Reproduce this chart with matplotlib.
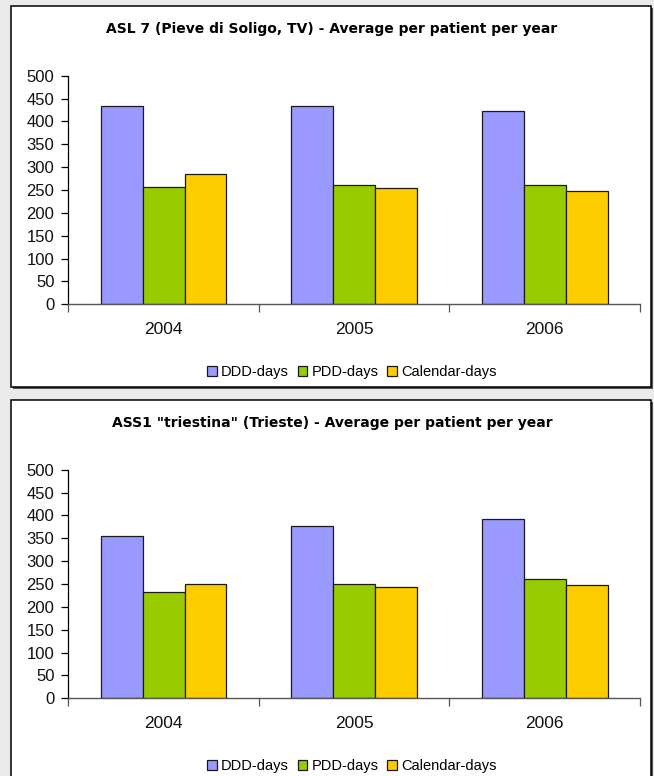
import matplotlib
matplotlib.use("Agg")
import matplotlib.pyplot as plt
from matplotlib.patches import Rectangle
import numpy as np

# ---- data ----
years = ["2004", "2005", "2006"]
series_names = ["DDD-days", "PDD-days", "Calendar-days"]

asl7_ddd = [434, 434, 423]
asl7_pdd = [257, 262, 260]
asl7_cal = [284, 255, 247]

ass1_ddd = [354, 376, 392]
ass1_pdd = [233, 249, 262]
ass1_cal = [249, 244, 247]

titles = [
    "ASL 7 (Pieve di Soligo, TV) - Average per patient per year",
    'ASS1 "triestina" (Trieste) - Average per patient per year',
]
yticks = list(range(0, 501, 50))

colors = ["#9999FF", "#99CC00", "#FFCC00"]

# ---- layout (pixel units, origin top-left) ----
W, H = 654, 776
DPI = 100
fig = plt.figure(figsize=(W / DPI, H / DPI), dpi=DPI, facecolor="#EAEAEA")


def fx(x):
    return x / W


def fy(y):
    return 1 - y / H


PANEL_OFFSET = 394
panel_x0, panel_x1 = 10.5, 650.5
panel_y0, panel_h = 6, 381
ax_x0, ax_x1 = 68.3, 640.0
ax_y0, ax_y1 = 75.7, 304.3

datasets = [
    (asl7_ddd, asl7_pdd, asl7_cal),
    (ass1_ddd, ass1_pdd, ass1_cal),
]

tick_font = "Liberation Sans"
bar_w = 0.22
x = np.arange(len(years))

for i, (series, title) in enumerate(zip(datasets, titles)):
    off = i * PANEL_OFFSET
    top = panel_y0 + off
    # drop shadow then white panel with black border
    fig.patches.append(Rectangle((fx(panel_x0 + 2), fy(top + panel_h + 2)),
                                 fx(panel_x1 - panel_x0), panel_h / H,
                                 transform=fig.transFigure, facecolor="#555555",
                                 edgecolor="none", zorder=-2))
    fig.patches.append(Rectangle((fx(panel_x0), fy(top + panel_h)),
                                 fx(panel_x1 - panel_x0), panel_h / H,
                                 transform=fig.transFigure, facecolor="white",
                                 edgecolor="black", linewidth=1.1, zorder=-1))

    ax = fig.add_axes([fx(ax_x0), fy(ax_y1 + off), fx(ax_x1 - ax_x0),
                       (ax_y1 - ax_y0) / H])
    ax.set_zorder(2)
    ax.set_facecolor("none")

    for k, (vals, name, col) in enumerate(zip(series, series_names, colors)):
        ax.bar(x + (k - 1) * bar_w, vals, width=bar_w, color=col,
               edgecolor="#1a1a1a", linewidth=0.9, label=name, zorder=2)

    ax.set_xlim(-0.5, len(years) - 0.5)
    ax.set_ylim(0, 500)
    ax.set_yticks(yticks)
    ax.set_yticklabels([str(v) for v in yticks], fontfamily=tick_font,
                       fontsize=12, color="#111111")
    ax.set_xticks(x)
    ax.set_xticklabels(years, fontfamily=tick_font, fontsize=12.5,
                       color="#111111")
    ax.set_xticks(np.arange(-0.5, len(years), 1.0), minor=True)
    ax.tick_params(axis="x", which="major", length=0, pad=13)
    ax.tick_params(axis="x", which="minor", length=5.5, width=0.9,
                   color="#555555", direction="out")
    ax.tick_params(axis="y", length=5, width=0.9, direction="out", pad=5,
                   color="black")

    for s in ("top", "right"):
        ax.spines[s].set_visible(False)
    ax.spines["left"].set_color("black")
    ax.spines["left"].set_linewidth(0.9)
    ax.spines["bottom"].set_color("#555555")
    ax.spines["bottom"].set_linewidth(1.0)

    fig.text(fx(332), fy(29 + off), title, ha="center", va="center",
             fontsize=10, fontweight="bold", family="DejaVu Sans")

    ax.legend(loc="center", bbox_to_anchor=(fx(352), fy(372 + off)),
              bbox_transform=fig.transFigure, ncol=3, frameon=False,
              prop={"family": tick_font, "size": 10.5},
              handlelength=0.65, handleheight=0.65, handletextpad=0.3,
              columnspacing=0.6, borderpad=0)

fig.savefig("out.png", dpi=DPI, facecolor=fig.get_facecolor())
